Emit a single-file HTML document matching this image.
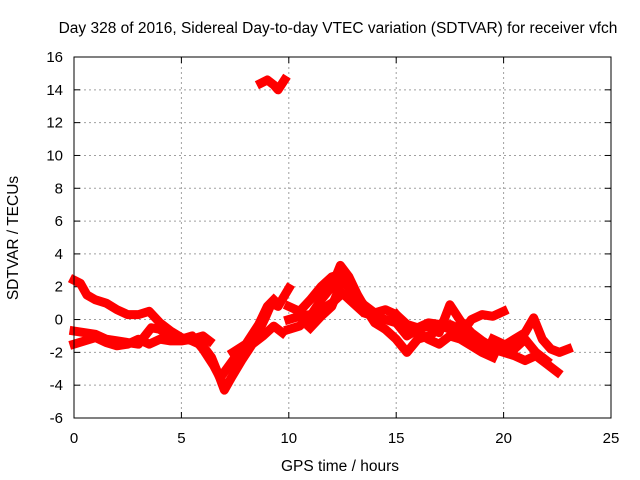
<!DOCTYPE html>
<html><head><meta charset="utf-8"><style>
body{margin:0;background:#fff;}
svg{display:block;font-family:"Liberation Sans",sans-serif;}
</style></head><body>
<svg id="chart" width="640" height="480">
<text x="338" y="33" font-size="15.5" text-anchor="middle">Day 328 of 2016, Sidereal Day-to-day VTEC variation (SDTVAR) for receiver vfch</text>
<text x="340" y="471" font-size="15.5" text-anchor="middle">GPS time / hours</text>
<text x="18" y="238" font-size="15.5" text-anchor="middle" transform="rotate(-90 18 238)">SDTVAR / TECUs</text>
<g id="grid"></g>
<g id="axes"></g>
<g id="series"></g>
<rect x="74" y="57" width="537" height="361" fill="none" stroke="#000"/>
</svg>
<script>
const xTicks=[0,5,10,15,20,25];
const yTicks=[-6,-4,-2,0,2,4,6,8,10,12,14,16];
const trackA=[[0,2.4],[0.3,2.2],[0.6,1.5],[1,1.2],[1.5,1.0],[2,0.6],[2.5,0.3],[3,0.3],[3.5,0.5],[4,-0.2],[4.5,-0.7],[5,-1.1],[5.5,-1.3],[6,-1.6],[6.4,-2.3],[6.8,-3.6],[7,-4.3],[7.3,-3.6],[7.8,-2.5],[8.3,-1.5],[8.8,-1.0],[9.3,-0.4],[9.7,-0.8]];
const trackB=[[0,-0.7],[0.5,-0.8],[1,-0.9],[1.5,-1.2],[2,-1.3],[2.5,-1.4],[3,-1.5],[3.3,-1.0],[3.6,-0.5],[4,-0.6],[4.5,-1.1],[5,-1.2],[5.5,-1.0],[6,-1.8],[6.5,-2.8],[6.9,-3.8]];
const trackC=[[0,-1.5],[0.5,-1.3],[1,-1.1],[1.5,-1.4],[2,-1.6],[2.5,-1.5],[3,-1.2],[3.5,-1.5],[4,-1.2],[4.5,-1.3],[5,-1.3],[5.5,-1.2],[6,-1.0],[6.3,-1.3]];
const trackD=[[7,-3.2],[7.5,-2.3],[8,-1.7],[8.5,-1.0],[8.9,0.1],[9.2,1.0],[9.5,0.8],[10,1.9]];
const trackE=[[7.4,-2.0],[8,-1.5],[8.6,-0.3],[9,0.8],[9.3,1.2]];
const trackF=[[10,-0.6],[10.5,-0.4],[11,0.2],[11.5,1.2],[12,2.0],[12.4,3.3],[12.8,2.6],[13.2,1.5],[13.6,0.6],[14,-0.2],[14.5,-0.6],[15,-1.2],[15.5,-2.0],[16,-1.2],[16.5,-1.0],[17,-0.6],[17.5,-0.3],[18,-0.6],[18.5,-1.0],[19,-1.5],[19.5,-1.8],[20,-2.0],[20.5,-2.2],[21,-2.5],[21.5,-2.2],[22,-2.7],[22.5,-3.2]];
const trackG=[[10,0],[10.5,0.2],[11,0.3],[11.5,0.6],[12,1.0],[12.5,1.6],[13,1.0],[13.5,0.4],[14,0.2],[14.5,0],[15,-0.2],[15.5,-1.0],[16,-0.6],[16.5,-0.4],[17,-0.8],[17.5,0.9],[18,-0.1],[18.5,-0.8],[19,-1.3],[19.5,-1.7],[20,-1.6],[20.5,-1.2],[21,-0.8],[21.4,0.1],[21.8,-1.2],[22.2,-1.8],[22.6,-2.0],[23,-1.8]];
const trackH=[[11,-0.5],[11.5,0.2],[12,0.8],[12.5,2.4],[13,1.6],[13.5,0.9],[14,0.4],[14.5,0.6],[15,0.3],[15.5,-0.3],[16,-0.5],[16.5,-0.2],[17,-0.3],[17.5,-0.6],[18,-0.9],[18.5,0],[19,0.3],[19.5,0.2],[20,0.5]];
const trackI=[[19.5,-1.2],[20,-1.5],[20.5,-1.8],[21,-1.2],[21.5,-2.0],[22,-2.5]];
const trackJ=[[10,0.8],[10.5,0.5],[11,1.2],[11.5,2.0],[12,2.6],[12.5,2.8],[13,2.0],[13.5,0.5]];
const trackK=[[15,0.3],[15.5,-0.5],[16,-0.8],[16.5,-1.2],[17,-1.5],[17.5,-1.0],[18,-1.2],[18.5,-1.6],[19,-2.0],[19.5,-2.3]];
const outlier=[[8.7,14.4],[9,14.6],[9.3,14.3],[9.5,14.0],[9.8,14.6]];
const tracks=[trackA,trackB,trackC,trackD,trackE,trackF,trackG,trackH,trackI,trackJ,trackK,outlier];
const NS="http://www.w3.org/2000/svg";
const X=v=>74+v*537/25, Y=v=>418-(v+6)*361/22;
const grid=document.getElementById('grid'),axes=document.getElementById('axes'),ser=document.getElementById('series');
function mk(tag,attrs,parent){const e=document.createElementNS(NS,tag);for(const k in attrs)e.setAttribute(k,attrs[k]);parent.appendChild(e);return e;}
xTicks.forEach(t=>{const x=X(t);
 if(t>0&&t<25){const g=mk('line',{x1:x,x2:x,y1:57,y2:418,stroke:'#a0a0a0','stroke-dasharray':'2,3'},grid);}
 mk('line',{x1:x,x2:x,y1:418,y2:412,stroke:'#000'},axes);mk('line',{x1:x,x2:x,y1:57,y2:63,stroke:'#000'},axes);
 const l=mk('text',{x:x,y:443,'font-size':15,'text-anchor':'middle'},axes);l.textContent=t;
 });
yTicks.forEach(t=>{const y=Y(t);
 if(t>-6&&t<16){const g=mk('line',{x1:74,x2:611,y1:y,y2:y,stroke:'#a0a0a0','stroke-dasharray':'2,3'},grid);}
 mk('line',{x1:74,x2:80,y1:y,y2:y,stroke:'#000'},axes);mk('line',{x1:611,x2:605,y1:y,y2:y,stroke:'#000'},axes);
 const l=mk('text',{x:63,y:y+5,'font-size':15,'text-anchor':'end'},axes);l.textContent=t;
 });
tracks.forEach(tr=>{
 const p=mk('polyline',{points:tr.map(d=>X(d[0])+','+Y(d[1])).join(' '),fill:'none',stroke:'#ff0000','stroke-width':9,'stroke-linejoin':'round','stroke-linecap':'square'},ser);
 
 
});
</script>
</body></html>
